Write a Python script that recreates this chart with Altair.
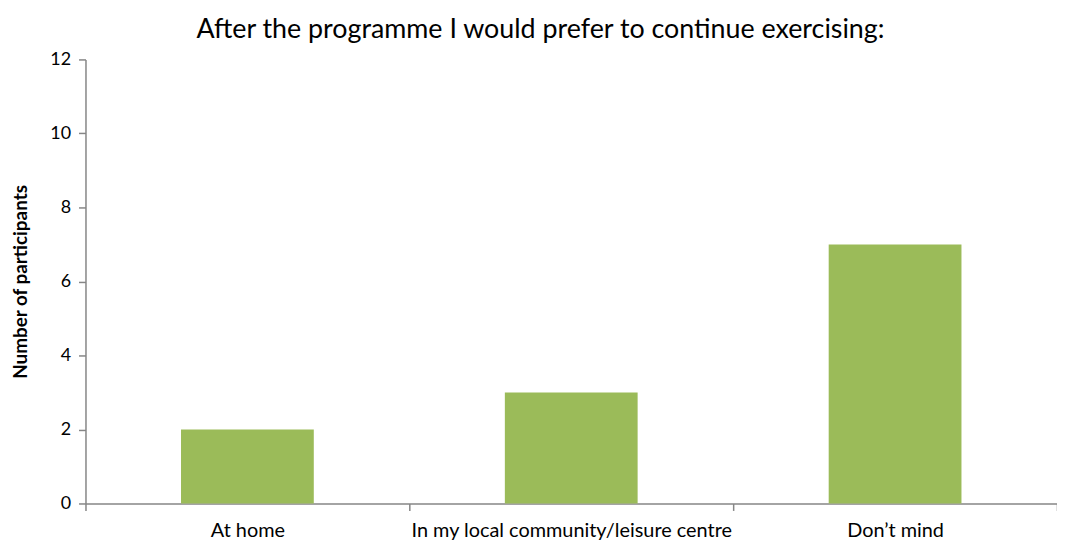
import altair as alt
import pandas as pd

categories = ["At home", "In my local community/leisure centre", "Don\u2019t mind"]
values = [2, 3, 7]
y_ticks = [0, 2, 4, 6, 8, 10, 12]

df = pd.DataFrame({"category": categories, "count": values})

FONT = "Lato"
AXIS_COLOR = "#868686"

chart = alt.Chart(df).mark_bar(
    color="#9BBB59", width=alt.RelativeBandSize(0.41)
).encode(
    x=alt.X(
        "category:N",
        sort=categories,
        title=None,
        scale=alt.Scale(paddingInner=0, paddingOuter=0),
        axis=alt.Axis(
            labelAngle=0,
            labelFont=FONT,
            labelFontSize=20,
            labelColor="#000000",
            labelPadding=10,
            labelLimit=500,
            tickBand="extent",
            tickSize=7,
            tickColor=AXIS_COLOR,
            domainColor=AXIS_COLOR,
            domainWidth=1.5,
            tickWidth=1.5,
        ),
    ),
    y=alt.Y(
        "count:Q",
        title="Number of participants",
        scale=alt.Scale(domain=[0, 12], nice=False),
        axis=alt.Axis(
            values=y_ticks,
            grid=False,
            labelFont=FONT,
            labelFontSize=18,
            labelColor="#000000",
            labelPadding=8,
            tickSize=7,
            tickColor=AXIS_COLOR,
            domainColor=AXIS_COLOR,
            domainWidth=1.5,
            tickWidth=1.5,
            titleFont=FONT,
            titleFontSize=19,
            titleFontWeight="bold",
            titleColor="#000000",
            titlePadding=19,
        ),
    ),
).properties(
    width=978,
    height=447,
    title=alt.TitleParams(
        "After the programme I would prefer to continue exercising:",
        font=FONT,
        fontSize=27,
        fontWeight="normal",
        color="#000000",
        anchor="middle",
        dx=-31,
        offset=7,
    ),
    autosize=alt.AutoSizeParams(type="none"),
    padding={"left": 78, "top": 50, "right": 0, "bottom": 36},
).configure(background="#ffffff").configure_view(stroke=None)

chart.save("out.html", embed_options={"renderer": "svg", "actions": False})
